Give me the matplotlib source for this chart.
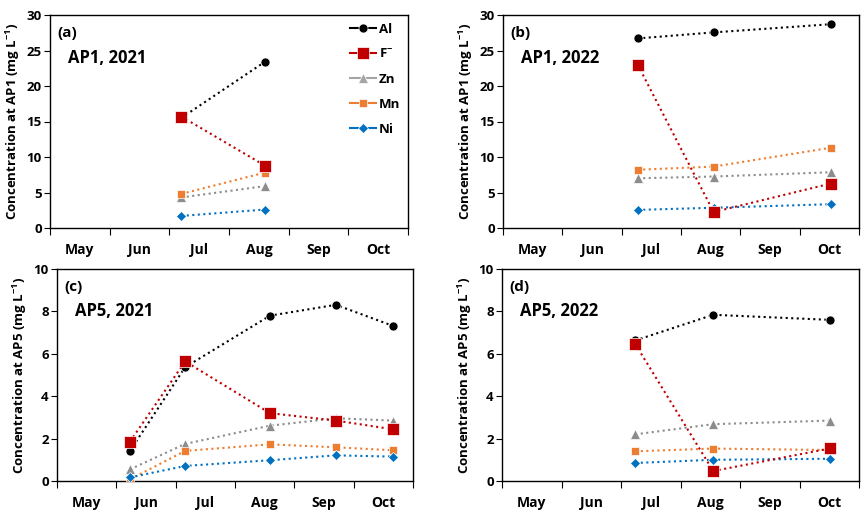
import matplotlib
matplotlib.use("Agg")
import matplotlib.pyplot as plt
from matplotlib.lines import Line2D

plt.rcParams['font.family'] = ['Open Sans', 'DejaVu Sans']
plt.rcParams['font.weight'] = 'bold'
plt.rcParams['mathtext.fontset'] = 'custom'
plt.rcParams['mathtext.rm'] = 'Open Sans:bold'
plt.rcParams['mathtext.default'] = 'rm'

months = ["May", "Jun", "Jul", "Aug", "Sep", "Oct"]
species = ["Al", "F$^{-}$", "Zn", "Mn", "Ni"]

# sampling positions (fractional month index, May start = 0)
x_a = [2.2, 3.6]
x_b = [2.27, 3.55, 5.52]
x_c = [1.23, 2.16, 3.59, 4.70, 5.66]
x_d = [2.24, 3.55, 5.52]

# panel (a) AP1 2021
a_Al = [15.5, 23.4]
a_F = [15.7, 8.8]
a_Zn = [4.3, 5.9]
a_Mn = [4.8, 7.8]
a_Ni = [1.7, 2.6]

# panel (b) AP1 2022
b_Al = [26.7, 27.55, 28.7]
b_F = [23.0, 2.25, 6.25]
b_Zn = [7.0, 7.25, 7.85]
b_Mn = [8.2, 8.65, 11.3]
b_Ni = [2.55, 2.85, 3.35]

# panel (c) AP5 2021
c_Al = [1.42, 5.37, 7.8, 8.31, 7.32]
c_F = [1.86, 5.64, 3.2, 2.85, 2.44]
c_Zn = [0.55, 1.75, 2.61, 2.96, 2.85]
c_Mn = [0.08, 1.42, 1.73, 1.59, 1.45]
c_Ni = [0.17, 0.71, 0.98, 1.21, 1.15]

# panel (d) AP5 2022
d_Al = [6.63, 7.84, 7.6]
d_F = [6.46, 0.47, 1.54]
d_Zn = [2.2, 2.68, 2.85]
d_Mn = [1.4, 1.53, 1.46]
d_Ni = [0.85, 1.0, 1.05]

colors = {"Al": "#000000", "F": "#C00000", "Zn": "#8C8C8C", "Mn": "#ED7D31", "Ni": "#0070C0"}
markers = {"Al": ("o", 6.5), "F": ("s", 8.5), "Zn": ("^", 7.5), "Mn": ("s", 6), "Ni": ("D", 5)}
keys = ["Al", "F", "Zn", "Mn", "Ni"]

fig = plt.figure(figsize=(8.64, 5.12), dpi=100)
W, H = 864, 512
boxes = [(50, 15, 408, 228), (503, 15, 859, 228), (57, 269, 413, 481), (502, 269, 859, 481)]
panels = [
    ("(a)", "AP1, 2021", "AP1", 30, [0, 5, 10, 15, 20, 25, 30], x_a, [a_Al, a_F, a_Zn, a_Mn, a_Ni]),
    ("(b)", "AP1, 2022", "AP1", 30, [0, 5, 10, 15, 20, 25, 30], x_b, [b_Al, b_F, b_Zn, b_Mn, b_Ni]),
    ("(c)", "AP5, 2021", "AP5", 10, [0, 2, 4, 6, 8, 10], x_c, [c_Al, c_F, c_Zn, c_Mn, c_Ni]),
    ("(d)", "AP5, 2022", "AP5", 10, [0, 2, 4, 6, 8, 10], x_d, [d_Al, d_F, d_Zn, d_Mn, d_Ni]),
]

for (l, t, r, b), (lab, title, site, ymax, yt, xs, data) in zip(boxes, panels):
    ax = fig.add_axes([l / W, 1 - b / H, (r - l) / W, (b - t) / H])
    order = [0, 2, 3, 4, 1]
    for i in order:
        k = keys[i]
        m, ms = markers[k]
        ax.plot(xs, data[i], linestyle=":", linewidth=1.5, color=colors[k], marker=m,
                markersize=ms, markerfacecolor=colors[k], markeredgecolor="white",
                markeredgewidth=0.5, zorder=3 + (1 if k == "F" else 0))
    ax.set_xlim(0, 6)
    ax.set_ylim(0, ymax)
    ax.set_yticks(yt)
    ax.set_xticks(range(7))
    ax.set_xticklabels([])
    ax.set_xticks([i + 0.5 for i in range(6)], minor=True)
    ax.set_xticklabels(months, minor=True, fontsize=10, fontweight="bold")
    ax.tick_params(axis="x", which="minor", length=0, pad=11)
    ax.tick_params(axis="x", which="major", length=5, direction="out")
    ax.tick_params(axis="y", length=4, direction="out", labelsize=9.5, pad=2)
    for s in ax.spines.values():
        s.set_linewidth(1.0)
    ax.set_ylabel("Concentration at %s (mg L$^{-1}$)" % site, fontsize=9.5,
                  fontweight="bold", labelpad=3)
    ax.text(0.02, 0.95, lab, transform=ax.transAxes, fontsize=11, fontweight="bold", va="top")
    ax.text(0.05, 0.80, title, transform=ax.transAxes, fontsize=12, fontweight="bold", va="center")
    if lab == "(a)":
        handles = []
        for k, name in zip(keys, species):
            m, ms = markers[k]
            handles.append(Line2D([0], [0], color=colors[k] if k != "Zn" else "#A5A5A5",
                                  linestyle="-", linewidth=1.5, marker=m, markersize=ms,
                                  markeredgecolor="white", markeredgewidth=0.5))
        ax.legend(handles, species, loc="upper right", frameon=False,
                  handlelength=2.0, handletextpad=0.2, labelspacing=0.9, borderaxespad=0.2,
                  prop={"weight": "bold", "size": 9.5})

fig.savefig("out.png", dpi=100)
